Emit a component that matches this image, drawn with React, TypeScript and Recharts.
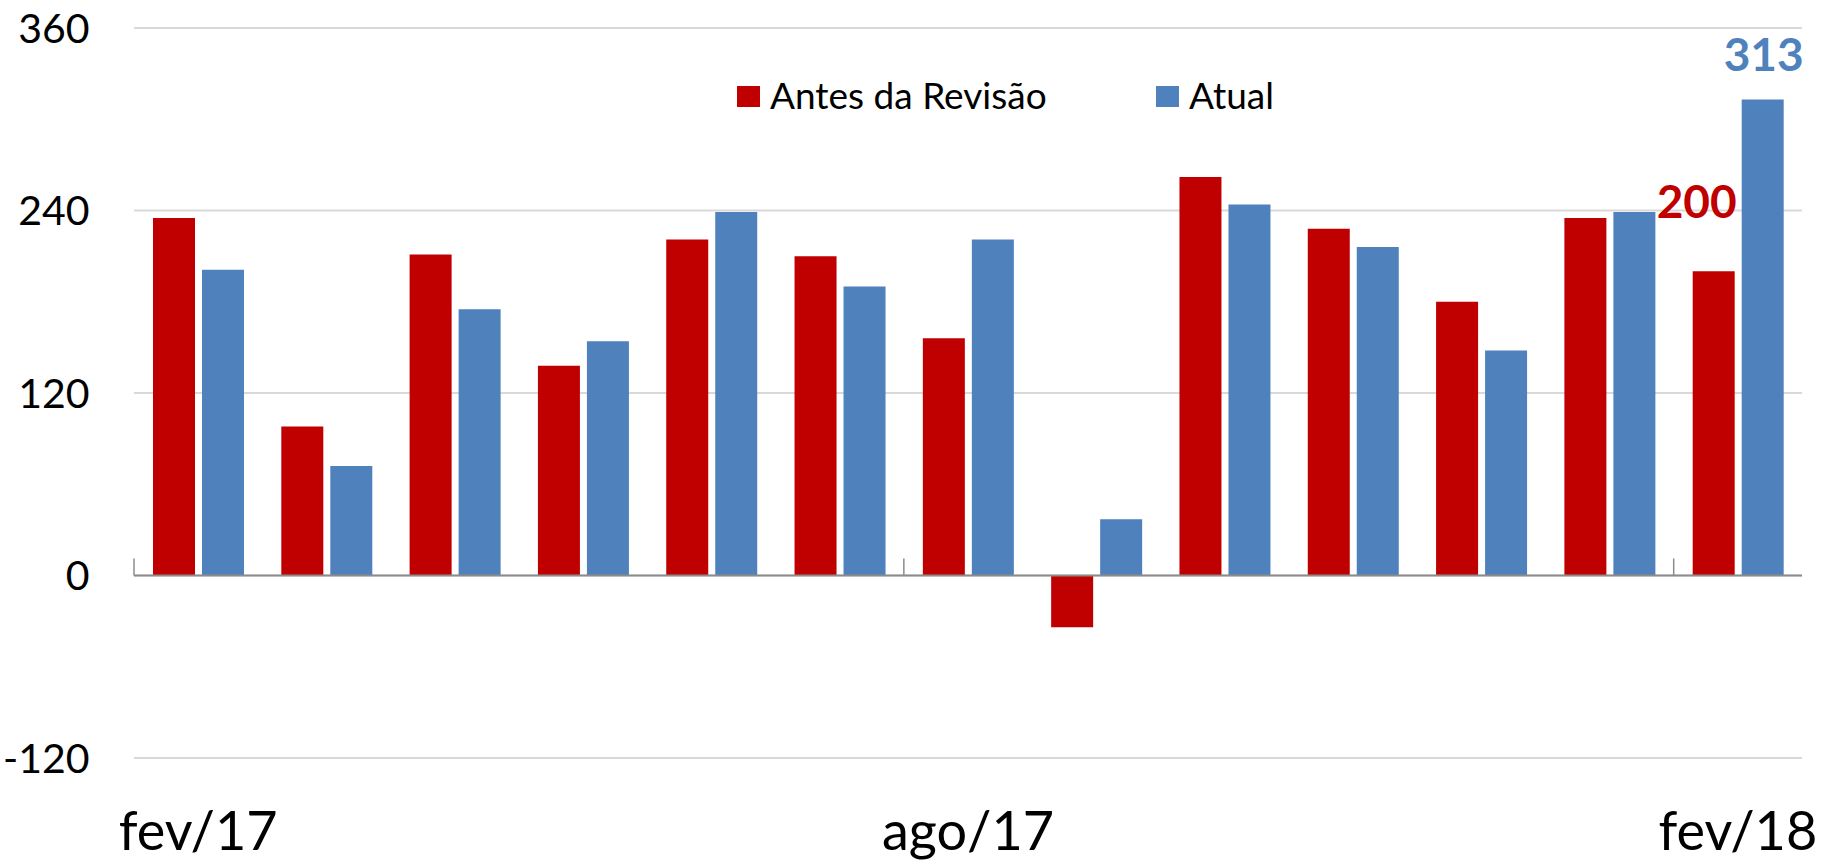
import React from 'react';
import { BarChart, Bar, XAxis, YAxis, CartesianGrid, ReferenceLine, Legend, LabelList } from 'recharts';

const months = [
  'fev/17', 'mar/17', 'abr/17', 'mai/17', 'jun/17', 'jul/17', 'ago/17',
  'set/17', 'out/17', 'nov/17', 'dez/17', 'jan/18', 'fev/18',
];
const antesRevisao = [235, 98, 211, 138, 221, 210, 156, -34, 262, 228, 180, 235, 200];
const atual = [201, 72, 175, 154, 239, 190, 221, 37, 244, 216, 148, 239, 313];
const labeledMonths = ['fev/17', 'ago/17', 'fev/18'];
const valueLabelMonth = 'fev/18';
const yTicks = [-120, 0, 120, 240, 360];

const RED = '#C00000';
const BLUE = '#4F81BD';
const AXIS = '#8C8C8C';
const FONT = 'Lato, "Open Sans", sans-serif';

const data = months.map((m, i) => ({ month: m, antes: antesRevisao[i], atual: atual[i] }));

function MonthTick(props: any) {
  const { x, y, payload } = props;
  if (!labeledMonths.includes(payload.value)) return <g />;
  return (
    <text x={x} y={y + 84} textAnchor="middle" fontSize={54} fontFamily={FONT} fill="#000">
      {payload.value}
    </text>
  );
}

// zero line with tick marks at the left edge of the labelled months
function ZeroAxis(props: any) {
  const { x1, x2, y1 } = props;
  const step = (x2 - x1) / months.length;
  return (
    <g>
      <line x1={x1} x2={x2} y1={y1} y2={y1} stroke={AXIS} strokeWidth={2} />
      {labeledMonths.map((m) => {
        const bx = x1 + months.indexOf(m) * step;
        return <line key={m} x1={bx} x2={bx} y1={y1} y2={y1 - 17} stroke={AXIS} strokeWidth={1.5} />;
      })}
    </g>
  );
}

const valueLabel = (color: string, dx: number, dy: number) => (props: any) => {
  const vb = props.viewBox && props.viewBox.width != null ? props.viewBox : props;
  if (months[props.index] !== valueLabelMonth) return null;
  return (
    <text
      x={vb.x + vb.width / 2 + dx}
      y={vb.y - dy}
      textAnchor="middle"
      fontSize={46}
      fontWeight="bold"
      fontFamily={FONT}
      fill={color}
    >
      {props.value}
    </text>
  );
};

function LegendContent(props: any) {
  const items = props.payload || [];
  return (
    <div style={{ display: 'flex', alignItems: 'center', fontFamily: FONT, fontSize: 37, color: '#000' }}>
      {items.map((it: any) => (
        <div key={it.value} style={{ display: 'flex', alignItems: 'center', width: 419 }}>
          <span
            style={{
              display: 'inline-block',
              width: 23,
              height: 21,
              background: it.color,
              marginRight: 10,
              position: 'relative',
              top: 2,
            }}
          />
          <span>{it.value}</span>
        </div>
      ))}
    </div>
  );
}

export default function App() {
  return (
    <div style={{ position: 'absolute', left: 0, top: 0 }}>
      <BarChart
        width={1823}
        height={864}
        data={data}
        margin={{ top: 28, right: 21, left: 0, bottom: 6 }}
        barCategoryGap={19}
        barGap={7}
      >
        <CartesianGrid vertical={false} stroke="#D9D9D9" strokeWidth={2} />
        <XAxis
          dataKey="month"
          interval={0}
          height={100}
          axisLine={false}
          tickLine={false}
          tickSize={6}
          tickMargin={2}
          tick={<MonthTick />}
        />
        <YAxis
          domain={[-120, 360]}
          ticks={yTicks}
          interval={0}
          width={134}
          axisLine={false}
          tickLine={false}
          tickMargin={38.5}
          tick={{ fontSize: 41, fill: '#000', fontFamily: FONT }}
        />
        <Legend
          layout="horizontal"
          verticalAlign="middle"
          align="center"
          wrapperStyle={{ top: 72, left: 737, width: 900 }}
          content={<LegendContent />}
        />
        <Bar dataKey="antes" name="Antes da Revisão" fill={RED} isAnimationActive={false}>
          <LabelList dataKey="antes" content={valueLabel(RED, -17, 53)} />
        </Bar>
        <Bar dataKey="atual" name="Atual" fill={BLUE} isAnimationActive={false}>
          <LabelList dataKey="atual" content={valueLabel(BLUE, 1, 28)} />
        </Bar>
        <ReferenceLine y={0} shape={ZeroAxis} />
      </BarChart>
    </div>
  );
}
